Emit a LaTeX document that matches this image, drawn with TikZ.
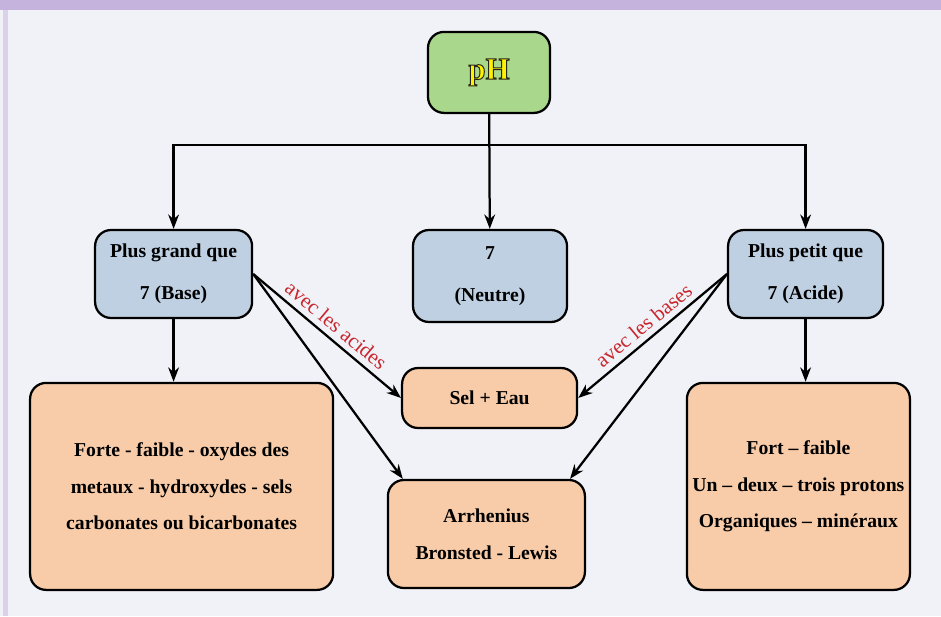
\documentclass[tikz,border=0pt]{standalone}
\usepackage{fontspec}
\setmainfont{Liberation Serif}
\usetikzlibrary{arrows.meta}
\definecolor{fond}{HTML}{F1F2F7}
\definecolor{bande}{HTML}{C5B3DE}
\definecolor{vert}{HTML}{A9D78B}
\definecolor{bleu}{HTML}{BFD0E2}
\definecolor{peche}{HTML}{F8CCA9}
\definecolor{rouge}{HTML}{C8262D}
% texte jaune cerne de noir
\newcommand\cerne[1]{\textcolor{yellow}{\special{pdf:literal direct 2 Tr 0.7 w 0.15 0.15 0.1 RG}#1\special{pdf:literal direct 0 Tr}}}
\begin{document}
\begin{tikzpicture}[>={Stealth[length=3.6mm,width=2.7mm]}, line width=1.6pt,
every node/.style={font=\bfseries\fontsize{14}{26}\selectfont},
box/.style={draw,rounded corners=4mm,align=center},
boxb/.style={box,fill=bleu,font=\bfseries\fontsize{14}{30}\selectfont},
boxo/.style={box,fill=peche},
lbl/.style={font=\fontsize{15}{17}\selectfont,text=rouge,inner sep=4pt}]
\useasboundingbox (0,0) rectangle (23.525,15.4);
\fill[fond] (0,0) rectangle (23.525,15.4);
\fill[bande] (0,15.15) rectangle (23.525,15.4);
\fill[bande!60] (0.08,0) rectangle (0.2,15.15);
\node[box,fill=vert,minimum width=3.05cm,minimum height=2.025cm,font=\bfseries\fontsize{22}{24}\selectfont] (ph) at (12.225,13.59) {\cerne{pH}};
\node[boxb,minimum width=3.925cm,minimum height=2.2cm] (base) at (4.34,8.55) {Plus grand que\\7 (Base)};
\node[boxb,minimum width=3.85cm,minimum height=2.3cm] (neutre) at (12.25,8.5) {7\\(Neutre)};
\node[boxb,minimum width=3.875cm,minimum height=2.2cm] (acide) at (20.14,8.55) {Plus petit que\\7 (Acide)};
\node[boxo,minimum width=7.575cm,minimum height=5.175cm] (sels) at (4.54,3.24) {Forte - faible - oxydes des\\metaux - hydroxydes - sels\\carbonates ou bicarbonates};
\node[boxo,minimum width=4.375cm,minimum height=1.5cm] (sel) at (12.24,5.45) {Sel + Eau};
\node[boxo,minimum width=4.925cm,minimum height=2.7cm] (theo) at (12.16,2.05) {Arrhenius\\Bronsted - Lewis};
\node[boxo,minimum width=5.575cm,minimum height=5.175cm] (acides) at (19.96,3.24) {Fort -- faible\\Un -- deux -- trois protons\\Organiques -- minéraux};
% fourche sous pH
\coordinate (fork) at (12.225,11.775);
\draw[->] (ph) -- (neutre);
\draw[->] (fork) -| (base);
\draw[->] (fork) -| (acide);
\draw[->] (base.south) -- (base.south |- sels.north);
\draw[->] (acide.south) -- (acide.south |- acides.north);
% reactions
\draw[->] (base.east) -- node[sloped,above,lbl] {avec les acides} (sel.west);
\draw[->] (base.east) -- ([xshift=4mm]theo.north west);
\draw[->] (acide.west) -- node[sloped,above,lbl] {avec les bases} (sel.east);
\draw[->] (acide.west) -- ([xshift=-4mm]theo.north east);
\end{tikzpicture}
\end{document}
